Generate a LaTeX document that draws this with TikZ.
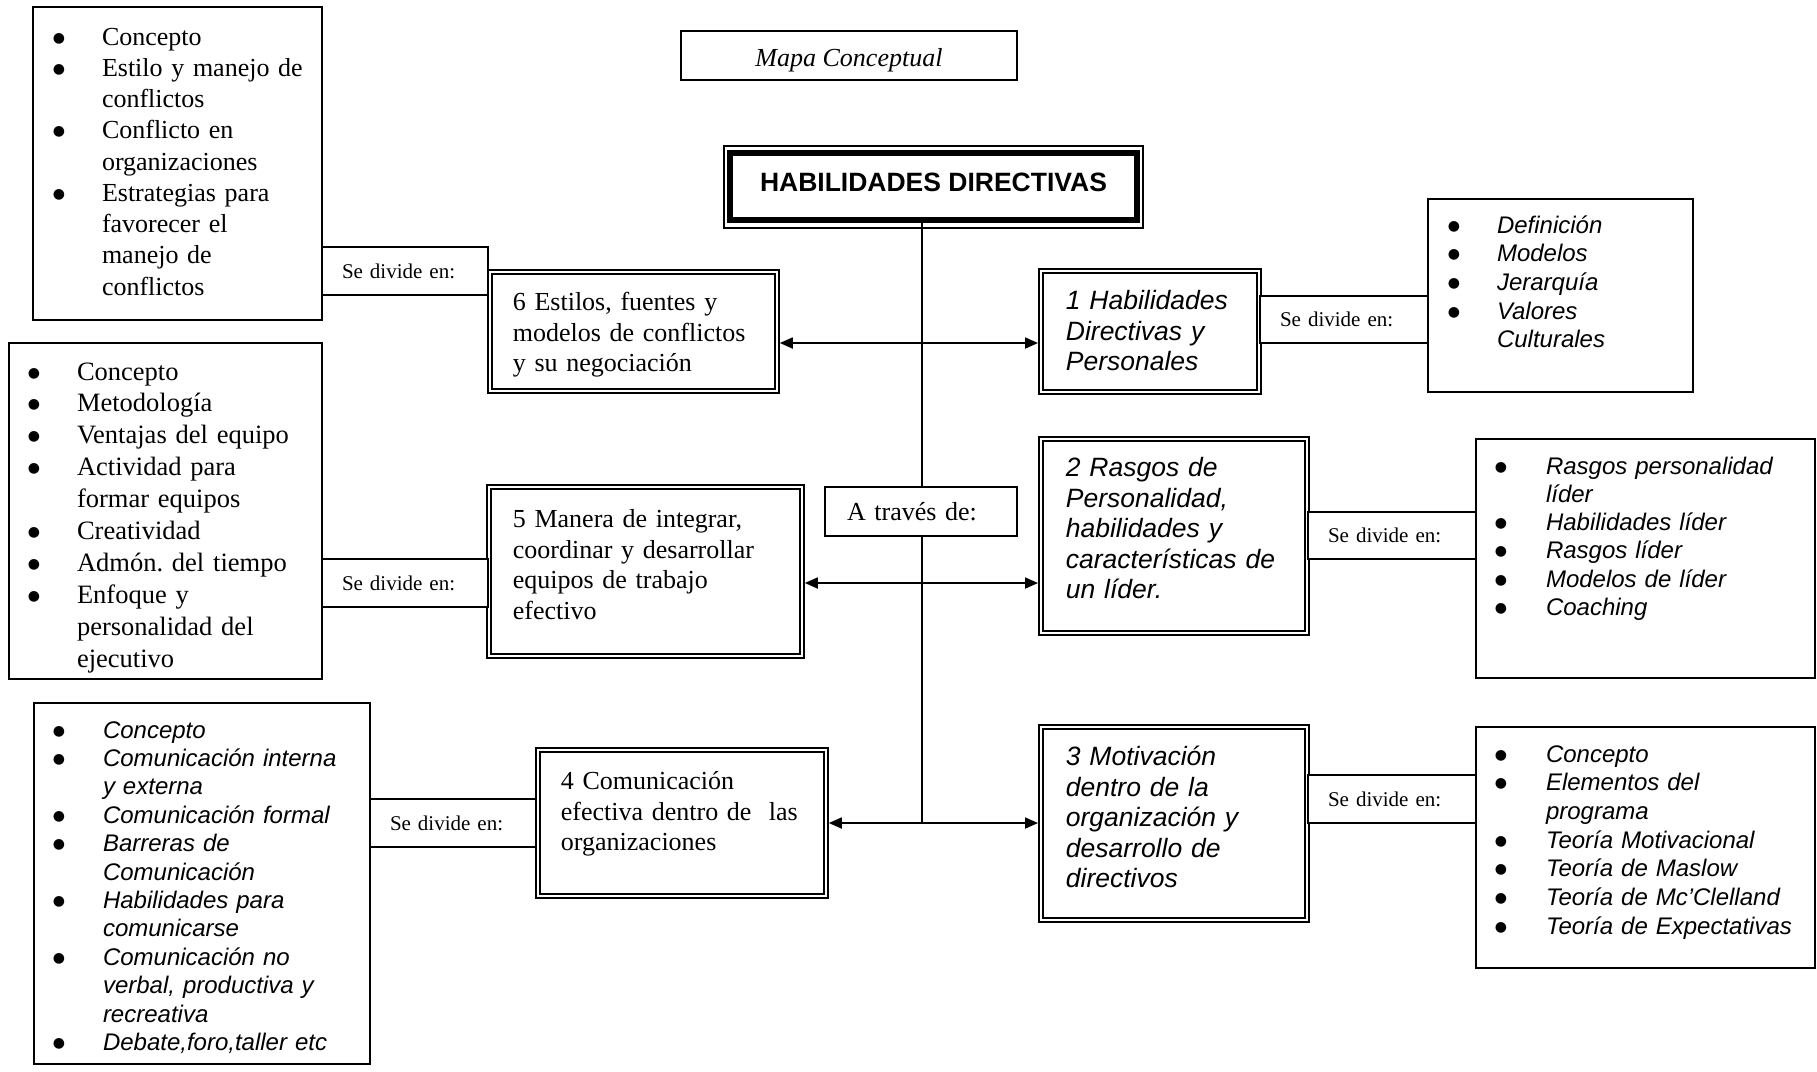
\documentclass[tikz,border=0pt]{standalone}
\usepackage{fontspec}
\setmainfont{Liberation Serif}
\newfontfamily\arialfam{Liberation Sans}
\newfontfamily\puntofam{DejaVu Sans}
\usepackage{enumitem}
\usetikzlibrary{arrows.meta}
\frenchspacing

\setlist[itemize]{nosep, rightmargin=-40pt, labelwidth=10pt,
  label={\puntofam\upshape\raisebox{3pt}{\fontsize{14}{14}\selectfont ●}}}

\tikzset{
  caja/.style={draw, line width=1.8pt, fill=white, anchor=north west,
    inner ysep=0pt, outer sep=0pt, align=left},
  doble/.style={draw, line width=1.5pt, double=white, double distance=2.8pt,
    fill=white, anchor=north west, inner ysep=0pt, outer sep=2.9pt, align=left},
  romana/.style={font=\fontsize{26}{30.5}\selectfont},
  arial/.style={font=\arialfam\itshape\fontsize{26.5}{30.5}\selectfont},
  divide/.style={caja, inner xsep=20pt, text width=126pt, minimum height=48pt,
    font=\fontsize{21}{24}\selectfont},
}

\begin{document}
\begin{tikzpicture}[x=1pt, y=1pt, >={Triangle[length=13pt, width=11pt]}]% [ show background grid ]
\useasboundingbox (0,0) rectangle (1817,-1071);

\node[caja, minimum width=336pt, minimum height=49pt, inner xsep=0pt, text height=22pt,
  text depth=0pt, font=\itshape\fontsize{26}{30}\selectfont] (Mapa) at (681,-31) {Mapa Conceptual};

\node[draw, line width=6pt, fill=white, anchor=north west, outer sep=0pt,
  minimum width=407pt, minimum height=67pt, text depth=8pt,
  font=\arialfam\bfseries\fontsize{26.5}{30}\selectfont] (Directivas) at (730,-153)
  {HABILIDADES DIRECTIVAS};
\draw[line width=1.5pt] ([shift={(-6,7)}]Directivas.north west)
  rectangle ([shift={(6,-8)}]Directivas.south east);

\node[doble, romana, inner xsep=23pt, text width=241pt, text height=39pt, text depth=80pt]
  (Estilos) at (487,-269) {6 Estilos, fuentes y\\ modelos de conflictos\\ y su negociación};

\node[doble, romana, inner xsep=24pt, text width=265pt, text height=41pt, text depth=128pt]
  (Equipos) at (486,-484) {5 Manera de integrar,\\ coordinar y desarrollar\\ equipos de trabajo\\ efectivo};

\node[doble, romana, inner xsep=23pt, text width=242pt, text height=40pt, text depth=106pt]
  (Comunicacion) at (535,-747) {4 Comunicación\\ efectiva dentro de\ \ las\\ organizaciones};

\node[doble, arial, inner xsep=25pt, text width=168pt, text height=39pt, text depth=82pt]
  (Personales) at (1038,-268) {1 Habilidades\\ Directivas y\\ Personales};

\node[doble, arial, inner xsep=25pt, text width=216pt, text height=38pt, text depth=156pt]
  (Rasgos) at (1038,-436) {2 Rasgos de\\ Personalidad,\\ habilidades y\\ características de\\ un líder.};

\node[doble, arial, inner xsep=25pt, text width=216pt, text height=39pt, text depth=154pt]
  (Motivacion) at (1038,-724) {3 Motivación\\ dentro de la\\ organización y\\ desarrollo de\\ directivos};

\node[caja, inner xsep=22pt, text width=245pt, text height=6.75pt, text depth=306.25pt,
  font=\fontsize{26}{31.25}\selectfont] (ListaEstilos) at (33,-7) {%
  \begin{itemize}[leftmargin=47pt, labelsep=37pt]
  \item Concepto
  \item Estilo y manejo de\newline conflictos
  \item Conflicto en\newline organizaciones
  \item Estrategias para\newline favorecer el\newline manejo de\newline conflictos
  \end{itemize}};

\node[caja, inner xsep=20pt, text width=273pt, text height=5.1pt, text depth=330.9pt,
  font=\fontsize{26.5}{31.9}\selectfont] (ListaEquipos) at (9,-343) {%
  \begin{itemize}[leftmargin=48pt, labelsep=37pt]
  \item Concepto
  \item Metodología
  \item Ventajas del equipo
  \item Actividad para\newline formar equipos
  \item Creatividad
  \item Admón. del tiempo
  \item Enfoque y\newline personalidad del\newline ejecutivo
  \end{itemize}};

\node[caja, inner xsep=20pt, text width=296pt, text height=6.6pt, text depth=354.4pt,
  font=\arialfam\itshape\fontsize{24}{28.4}\selectfont] (ListaComunicacion) at (34,-703) {%
  \begin{itemize}[leftmargin=49pt, labelsep=38pt]
  \item Concepto
  \item Comunicación interna\newline y externa
  \item Comunicación formal
  \item Barreras de\newline Comunicación
  \item Habilidades para\newline comunicarse
  \item Comunicación no\newline verbal, productiva y\newline recreativa
  \item Debate,foro,taller etc
  \end{itemize}};

\node[caja, inner xsep=20pt, text width=225pt, text height=5.3pt, text depth=187.7pt,
  font=\arialfam\itshape\fontsize{24}{28.7}\selectfont] (ListaPersonales) at (1428,-199) {%
  \begin{itemize}[leftmargin=49pt, labelsep=37pt]
  \item Definición
  \item Modelos
  \item Jerarquía
  \item Valores\newline Culturales
  \end{itemize}};

\node[caja, inner xsep=20pt, text width=299pt, text height=6.7pt, text depth=232.3pt,
  font=\arialfam\itshape\fontsize{24}{28.3}\selectfont] (ListaRasgos) at (1476,-439) {%
  \begin{itemize}[leftmargin=50pt, labelsep=39pt]
  \item Rasgos personalidad\newline líder
  \item Habilidades líder
  \item Rasgos líder
  \item Modelos de líder
  \item Coaching
  \end{itemize}};

\node[caja, inner xsep=20pt, text width=299pt, text height=6.3pt, text depth=234.7pt,
  font=\arialfam\itshape\fontsize{24}{28.7}\selectfont] (ListaMotivacion) at (1476,-727) {%
  \begin{itemize}[leftmargin=50pt, labelsep=39pt]
  \item Concepto
  \item Elementos del\newline programa
  \item Teoría Motivacional
  \item Teoría de Maslow
  \item Teoría de Mc’Clelland
  \item Teoría de Expectativas
  \end{itemize}};

\node[divide] (DivEstilos) at (322,-247) {Se divide en:};
\node[divide] (DivEquipos) at (322,-559) {Se divide en:};
\node[divide] (DivComunicacion) at (370,-799) {Se divide en:};
\node[divide, text width=128pt, minimum height=47pt] (DivPersonales) at (1260,-296) {Se divide en:};
\node[divide, text width=128pt, minimum height=47pt] (DivRasgos) at (1308,-512) {Se divide en:};
\node[divide, text width=128pt] (DivMotivacion) at (1308,-775) {Se divide en:};

\coordinate (Eje) at (922,-823);
\coordinate (Cruce1) at (922,-343);
\coordinate (Cruce2) at (922,-583);
\draw[line width=1.8pt] (Eje |- Directivas.south) -- (Eje);
\draw[line width=1.8pt, <->] (Estilos.east |- Cruce1) -- (Personales.west |- Cruce1);
\draw[line width=1.8pt, <->] (Equipos.east |- Cruce2) -- (Rasgos.west |- Cruce2);
\draw[line width=1.8pt, <->] (Comunicacion.east |- Eje) -- (Motivacion.west |- Eje);

\node[caja, inner xsep=22pt, text width=148pt, minimum height=49pt,
  font=\fontsize{26}{30}\selectfont] (Traves) at (825,-487) {A través de:};

\end{tikzpicture}
\end{document}
